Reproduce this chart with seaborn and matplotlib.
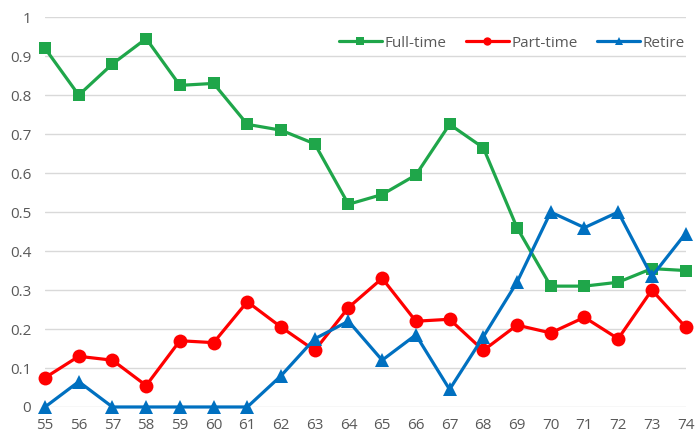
import pandas as pd
import matplotlib.pyplot as plt
import matplotlib.ticker as mticker
import seaborn as sns
import numpy as np

# Values
ages = list(range(55, 75))
full_time = [0.92, 0.80, 0.88, 0.945, 0.825, 0.83, 0.725, 0.71, 0.675, 0.52,
             0.545, 0.595, 0.725, 0.665, 0.46, 0.31, 0.31, 0.32, 0.355, 0.35]
part_time = [0.075, 0.13, 0.12, 0.055, 0.17, 0.165, 0.27, 0.205, 0.145, 0.255,
             0.33, 0.22, 0.225, 0.145, 0.21, 0.19, 0.23, 0.175, 0.30, 0.205]
retire = [0.0, 0.065, 0.0, 0.0, 0.0, 0.0, 0.0, 0.08, 0.175, 0.22,
          0.12, 0.185, 0.045, 0.18, 0.32, 0.50, 0.46, 0.50, 0.335, 0.445]
series_names = ['Full-time', 'Part-time', 'Retire']

df = pd.DataFrame({'Age': ages, 'Full-time': full_time,
                   'Part-time': part_time, 'Retire': retire})
long_df = df.melt(id_vars='Age', var_name='Status', value_name='Share')

sns.set_style("white")
plt.rcParams['font.family'] = ['Open Sans', 'DejaVu Sans']

fig = plt.figure(figsize=(6.97, 4.43), dpi=100)
ax = fig.add_axes([0.0646, 0.0813, 0.919, 0.880])

palette = {'Full-time': '#1FA64A', 'Part-time': '#FF0000', 'Retire': '#0070C0'}
markers = {'Full-time': 's', 'Part-time': 'o', 'Retire': '^'}
sizes = {'Full-time': 8.5, 'Part-time': 10, 'Retire': 9.5}

for name in series_names:
    sub = long_df[long_df['Status'] == name]
    sns.lineplot(data=sub, x='Age', y='Share', ax=ax, color=palette[name],
                 marker=markers[name], markersize=sizes[name], markeredgewidth=0,
                 linewidth=2.3, label=name, zorder=3, clip_on=False)

ax.set_xlim(55, 74)
ax.set_ylim(0, 1)
ax.set_xticks(ages)
ax.set_yticks(np.arange(0, 1.01, 0.1))
ax.yaxis.set_major_formatter(mticker.FuncFormatter(lambda v, p: f"{v:.1f}".rstrip('0').rstrip('.') if v else "0"))
ax.grid(axis='y', color='#D9D9D9', linewidth=1)
ax.grid(axis='x', visible=False)
for s in ax.spines.values():
    s.set_visible(False)
ax.tick_params(axis='both', length=0, labelsize=11, labelcolor='#595959')
ax.tick_params(axis='x', pad=8)
ax.tick_params(axis='y', pad=10)
ax.set_xlabel('')
ax.set_ylabel('')

leg = ax.legend(loc='center right', bbox_to_anchor=(1.02, 0.933), ncol=3,
                frameon=False, fontsize=11, handlelength=2.8, columnspacing=1.3,
                handletextpad=0.15, markerscale=0.6)
for t in leg.get_texts():
    t.set_color('#595959')

plt.savefig('out.png', dpi=100)
